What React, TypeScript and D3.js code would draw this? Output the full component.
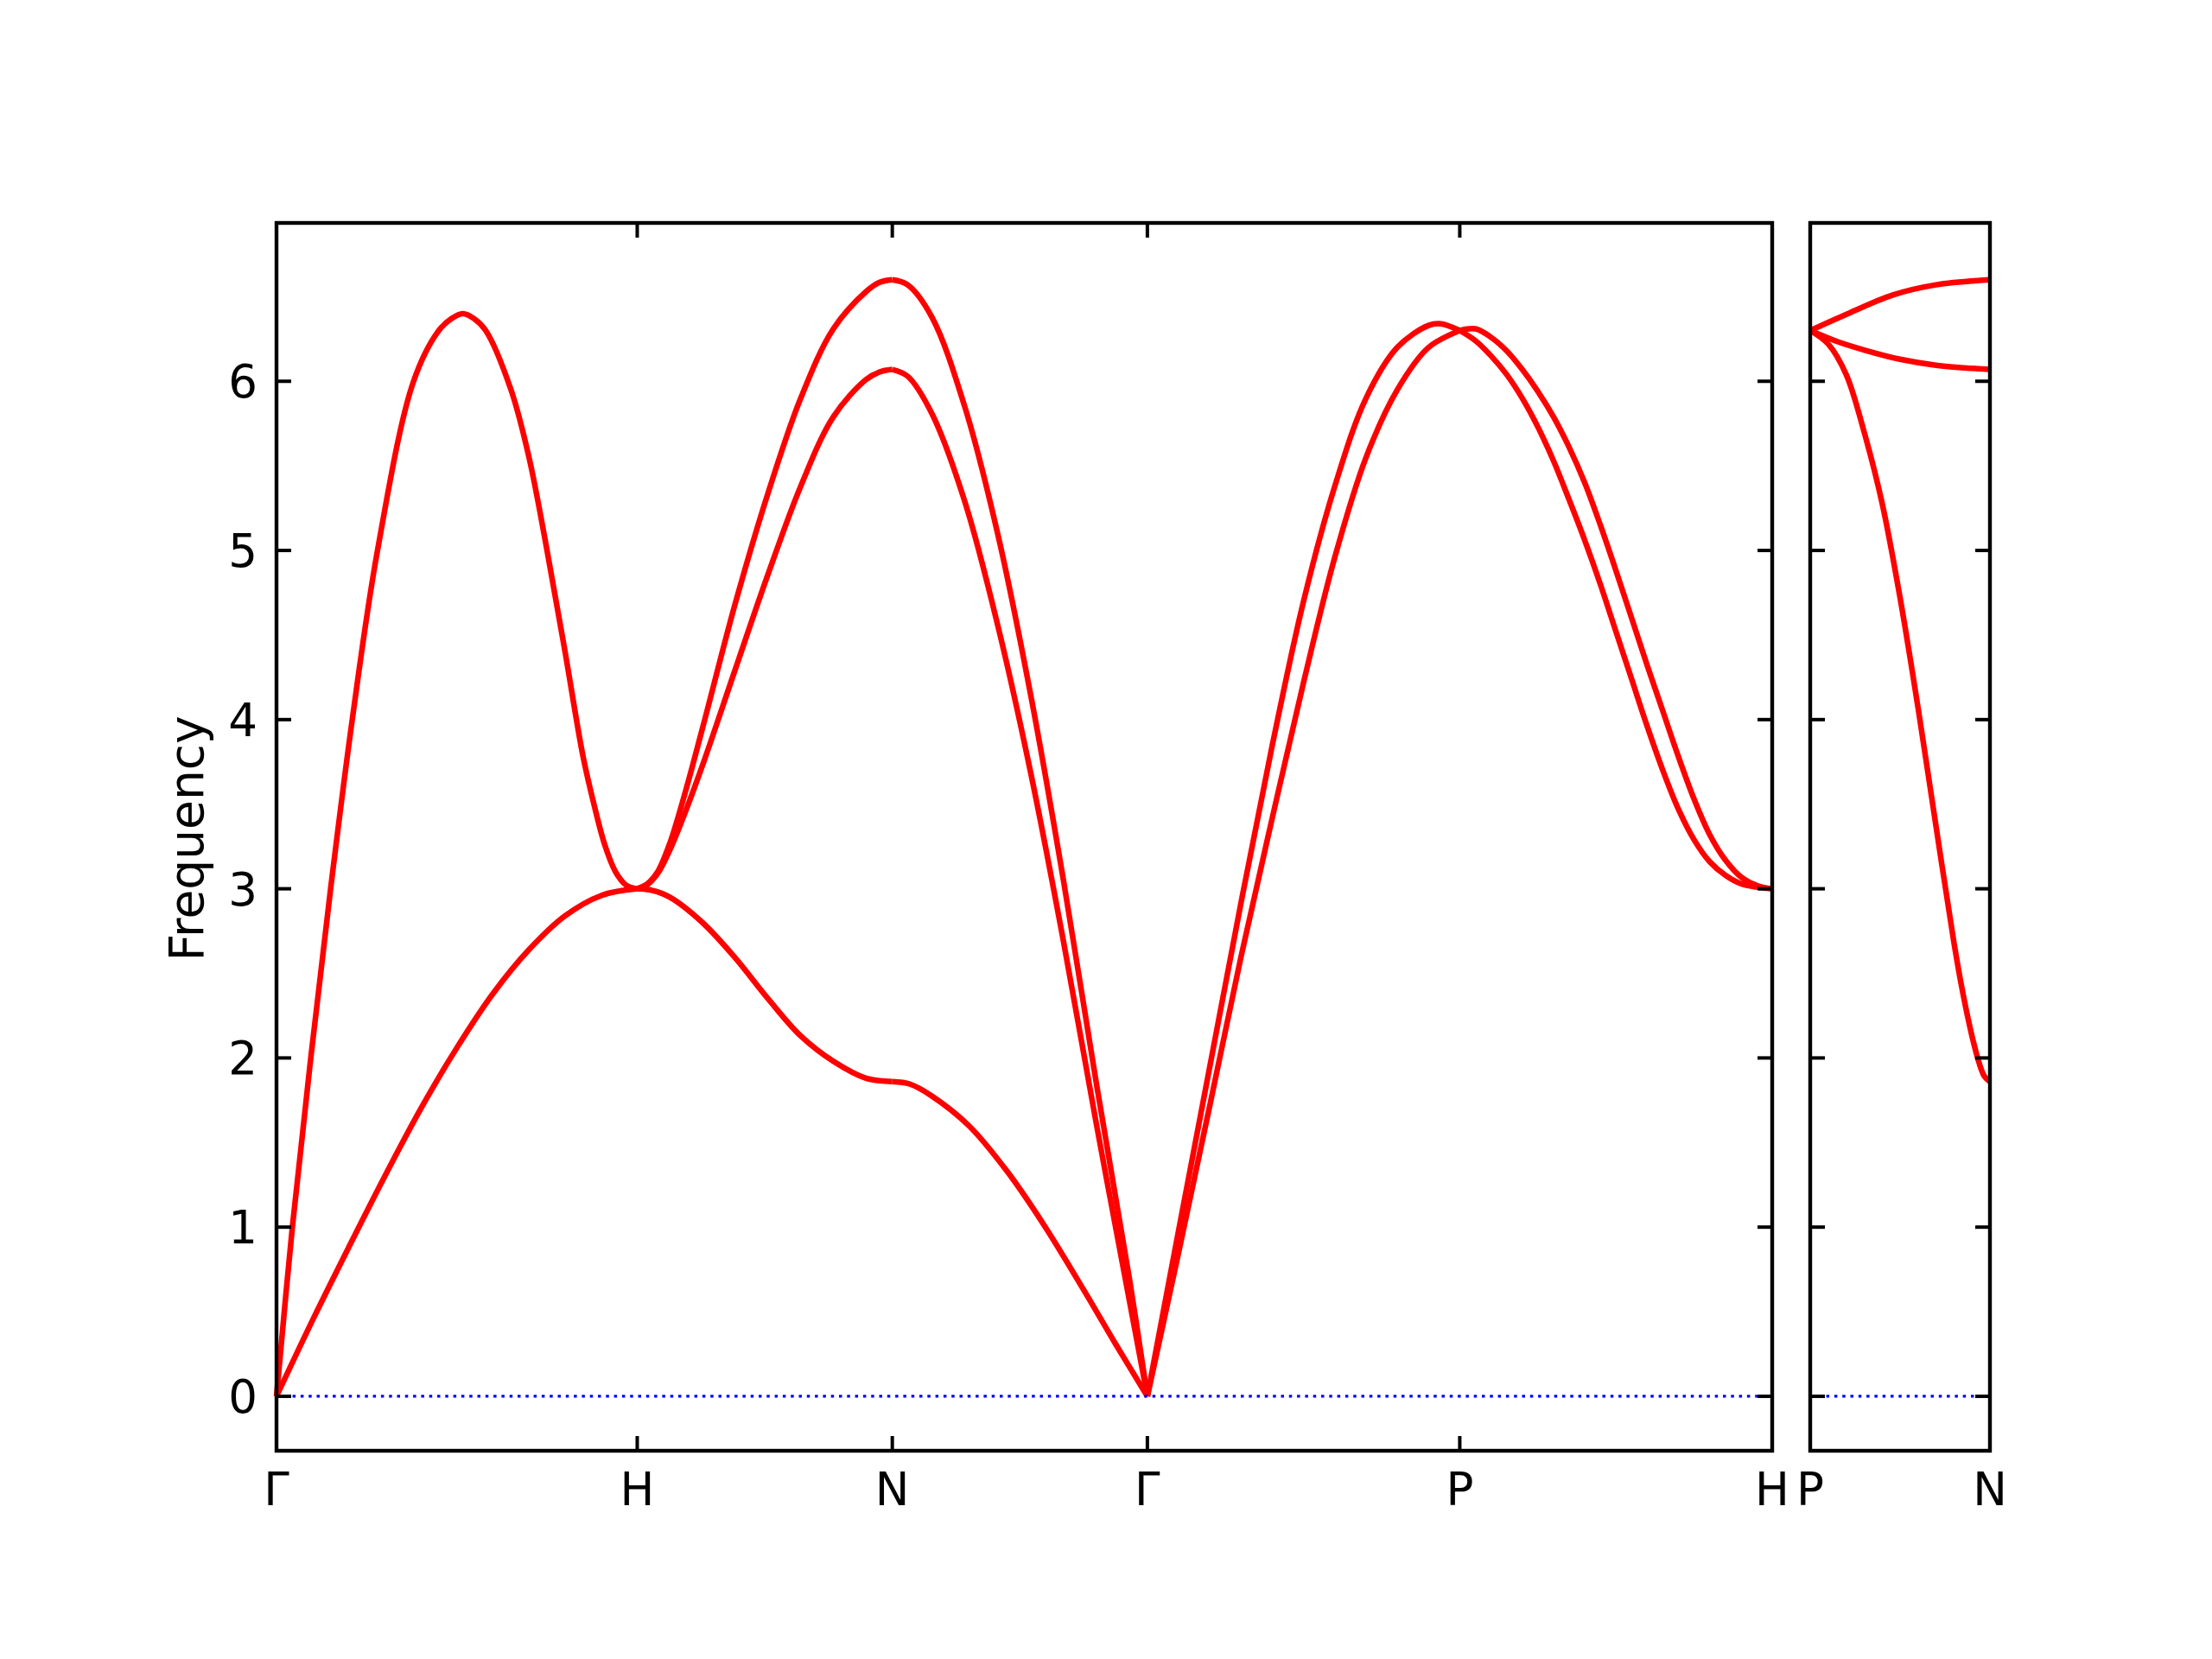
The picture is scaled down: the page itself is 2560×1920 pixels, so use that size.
import * as d3 from "d3";
import { useEffect, useRef } from "react";

const width = 2560;
const height = 1920;
const mainBox = { left: 320, right: 2051, top: 258, bottom: 1679 };
const sideBox = { left: 2095, right: 2303, top: 258, bottom: 1679 };
const yDomain = [-0.322, 6.936];
const yTicks = [0, 1, 2, 3, 4, 5, 6];

// high-symmetry points along the path (cumulative distance)
const mainLabels = ["Γ", "H", "N", "Γ", "P", "H"];
const mainDistances = [0, 1, 1.7071, 2.4142, 3.2802, 4.1463];
const sideLabels = ["P", "N"];
const sideDistances = [0, 0.5];

// [fraction along segment, frequency]
const gammaH_upper = [[0, 0], [0.044, 1.0], [0.095, 2.0], [0.15, 3.0], [0.21, 4.0], [0.28, 5.0], [0.38, 6.0], [0.45, 6.3], [0.485, 6.37], [0.516, 6.4], [0.548, 6.37], [0.58, 6.3], [0.65, 5.95], [0.7, 5.55], [0.75, 5.0], [0.8, 4.4], [0.85, 3.78], [0.88, 3.5], [0.91, 3.26], [0.94, 3.1], [0.97, 3.02], [1, 3.0]];
const gammaH_lower = [[0, 0], [0.1, 0.45], [0.2, 0.88], [0.3, 1.3], [0.4, 1.7], [0.5, 2.06], [0.6, 2.38], [0.7, 2.64], [0.8, 2.84], [0.9, 2.96], [1, 3.0]];

const hN_upper = [[0, 3.0], [0.04, 3.03], [0.08, 3.1], [0.128, 3.27], [0.19, 3.58], [0.256, 3.95], [0.385, 4.69], [0.513, 5.34], [0.641, 5.9], [0.769, 6.31], [0.897, 6.53], [0.95, 6.585], [1, 6.6]];
const hN_middle = [[0, 3.0], [0.04, 3.025], [0.08, 3.09], [0.128, 3.23], [0.19, 3.46], [0.256, 3.73], [0.385, 4.3], [0.513, 4.86], [0.641, 5.38], [0.769, 5.79], [0.897, 6.01], [0.95, 6.055], [1, 6.07]];
const hN_lower = [[0, 3.0], [0.06, 2.99], [0.128, 2.95], [0.256, 2.8], [0.385, 2.59], [0.513, 2.35], [0.641, 2.13], [0.769, 1.98], [0.897, 1.88], [1, 1.86]];

const nGamma_upper = [[0, 6.6], [0.06, 6.57], [0.155, 6.38], [0.284, 5.85], [0.413, 5.1], [0.542, 4.15], [0.671, 3.05], [0.8, 1.85], [0.929, 0.7], [1, 0]];
const nGamma_middle = [[0, 6.07], [0.06, 6.03], [0.155, 5.81], [0.284, 5.29], [0.413, 4.56], [0.542, 3.69], [0.671, 2.69], [0.8, 1.61], [0.929, 0.57], [1, 0]];
const nGamma_lower = [[0, 1.86], [0.07, 1.845], [0.15, 1.78], [0.3, 1.6], [0.45, 1.33], [0.6, 1.0], [0.75, 0.63], [0.875, 0.31], [1, 0]];

const gammaP_a = [[0, 0], [0.1, 0.98], [0.2, 1.95], [0.3, 2.92], [0.4, 3.85], [0.5, 4.7], [0.6, 5.38], [0.7, 5.9], [0.8, 6.2], [0.9, 6.33], [0.94, 6.34], [1, 6.3]];
const gammaP_b = [[0, 0], [0.1, 0.85], [0.2, 1.72], [0.3, 2.6], [0.4, 3.42], [0.5, 4.22], [0.6, 4.96], [0.7, 5.55], [0.8, 5.95], [0.9, 6.2], [1, 6.3]];

const pH_upper = [[0, 6.3], [0.05, 6.31], [0.1, 6.26], [0.15, 6.18], [0.2, 6.07], [0.25, 5.94], [0.3, 5.79], [0.35, 5.61], [0.4, 5.4], [0.45, 5.15], [0.5, 4.88], [0.55, 4.6], [0.6, 4.32], [0.65, 4.05], [0.7, 3.78], [0.75, 3.53], [0.8, 3.32], [0.85, 3.17], [0.9, 3.07], [0.95, 3.02], [1, 3.0]];
const pH_lower = [[0, 6.3], [0.05, 6.24], [0.1, 6.15], [0.15, 6.04], [0.2, 5.9], [0.25, 5.73], [0.3, 5.53], [0.35, 5.3], [0.4, 5.06], [0.45, 4.8], [0.5, 4.52], [0.55, 4.24], [0.6, 3.96], [0.65, 3.7], [0.7, 3.47], [0.75, 3.29], [0.8, 3.16], [0.85, 3.08], [0.9, 3.03], [0.95, 3.01], [1, 3.0]];

const pN_upper = [[0, 6.3], [0.21, 6.4], [0.46, 6.51], [0.7, 6.57], [1, 6.6]];
const pN_middle = [[0, 6.3], [0.15, 6.235], [0.3, 6.185], [0.5, 6.13], [0.7, 6.095], [1, 6.07]];
const pN_lower = [[0, 6.3], [0.1, 6.22], [0.2, 6.04], [0.3, 5.7], [0.4, 5.28], [0.5, 4.72], [0.6, 4.07], [0.7, 3.37], [0.8, 2.68], [0.85, 2.38], [0.9, 2.13], [0.94, 1.97], [0.97, 1.89], [1, 1.86]];

const mainSegments = [
  { start: 0, bands: [gammaH_upper, gammaH_lower] },
  { start: 1, bands: [hN_upper, hN_middle, hN_lower] },
  { start: 2, bands: [nGamma_upper, nGamma_middle, nGamma_lower] },
  { start: 3, bands: [gammaP_a, gammaP_b] },
  { start: 4, bands: [pH_upper, pH_lower] },
];
const sideSegments = [{ start: 0, bands: [pN_upper, pN_middle, pN_lower] }];

const font = "DejaVu Sans";

export default function App() {
  const svgRef = useRef(null);

  useEffect(() => {
    if (!svgRef.current) return;
    const svg = d3.select(svgRef.current);
    svg.selectAll("*").remove();

    const yScale = d3.scaleLinear().domain(yDomain).range([mainBox.bottom, mainBox.top]);

    drawPanel(svg, {
      box: mainBox,
      distances: mainDistances,
      labels: mainLabels,
      segments: mainSegments,
      yScale,
      showYLabels: true,
    });
    drawPanel(svg, {
      box: sideBox,
      distances: sideDistances,
      labels: sideLabels,
      segments: sideSegments,
      yScale,
      showYLabels: false,
    });

    svg
      .append("text")
      .attr("transform", `translate(235, ${(mainBox.top + mainBox.bottom) / 2 + 2}) rotate(-90)`)
      .attr("text-anchor", "middle")
      .attr("fill", "#000")
      .style("font-family", font)
      .style("font-size", "55px")
      .text("Frequency");
  }, []);

  return (
    <div style={{ position: "absolute", left: 0, top: 0, background: "#fff" }}>
      <svg ref={svgRef} width={width} height={height} style={{ display: "block" }} />
    </div>
  );
}

function drawPanel(svg, { box, distances, labels, segments, yScale, showYLabels }) {
  const xScale = d3
    .scaleLinear()
    .domain([distances[0], distances[distances.length - 1]])
    .range([box.left, box.right]);

  const line = d3
    .line()
    .x((d) => xScale(d[0]))
    .y((d) => yScale(d[1]))
    .curve(d3.curveCatmullRom.alpha(0.5));

  const g = svg.append("g");

  segments.forEach((seg) => {
    const d0 = distances[seg.start];
    const d1 = distances[seg.start + 1];
    seg.bands.forEach((band) => {
      g.append("path")
        .attr("d", line(band.map(([t, f]) => [d0 + t * (d1 - d0), f])))
        .attr("fill", "none")
        .attr("stroke", "#ff0000")
        .attr("stroke-width", 6.5)
        .attr("stroke-linejoin", "round");
    });
  });

  // zero line
  g.append("line")
    .attr("x1", box.left)
    .attr("x2", box.right)
    .attr("y1", yScale(0))
    .attr("y2", yScale(0))
    .attr("stroke", "#0000ff")
    .attr("stroke-width", 3.2)
    .attr("stroke-dasharray", "3.5 5.8");

  // y ticks, inward on both sides
  yTicks.forEach((tick) => {
    const y = yScale(tick);
    g.append("line")
      .attr("x1", box.left)
      .attr("x2", box.left + 17)
      .attr("y1", y)
      .attr("y2", y)
      .attr("stroke", "#000")
      .attr("stroke-width", 4);
    g.append("line")
      .attr("x1", box.right - 17)
      .attr("x2", box.right)
      .attr("y1", y)
      .attr("y2", y)
      .attr("stroke", "#000")
      .attr("stroke-width", 4);
    if (showYLabels) {
      g.append("text")
        .attr("x", box.left - 22)
        .attr("y", y + 19)
        .attr("text-anchor", "end")
        .attr("fill", "#000")
        .style("font-family", font)
        .style("font-size", "53px")
        .text(tick);
    }
  });

  // x ticks, inward top and bottom
  distances.forEach((dist, i) => {
    const x = xScale(dist);
    g.append("line")
      .attr("x1", x)
      .attr("x2", x)
      .attr("y1", box.bottom)
      .attr("y2", box.bottom - 17)
      .attr("stroke", "#000")
      .attr("stroke-width", 4);
    g.append("line")
      .attr("x1", x)
      .attr("x2", x)
      .attr("y1", box.top)
      .attr("y2", box.top + 17)
      .attr("stroke", "#000")
      .attr("stroke-width", 4);
    g.append("text")
      .attr("x", x)
      .attr("y", 1742)
      .attr("text-anchor", "middle")
      .attr("fill", "#000")
      .style("font-family", font)
      .style("font-size", "53px")
      .text(labels[i]);
  });

  g.append("rect")
    .attr("x", box.left)
    .attr("y", box.top)
    .attr("width", box.right - box.left)
    .attr("height", box.bottom - box.top)
    .attr("fill", "none")
    .attr("stroke", "#000")
    .attr("stroke-width", 4.4);
}
